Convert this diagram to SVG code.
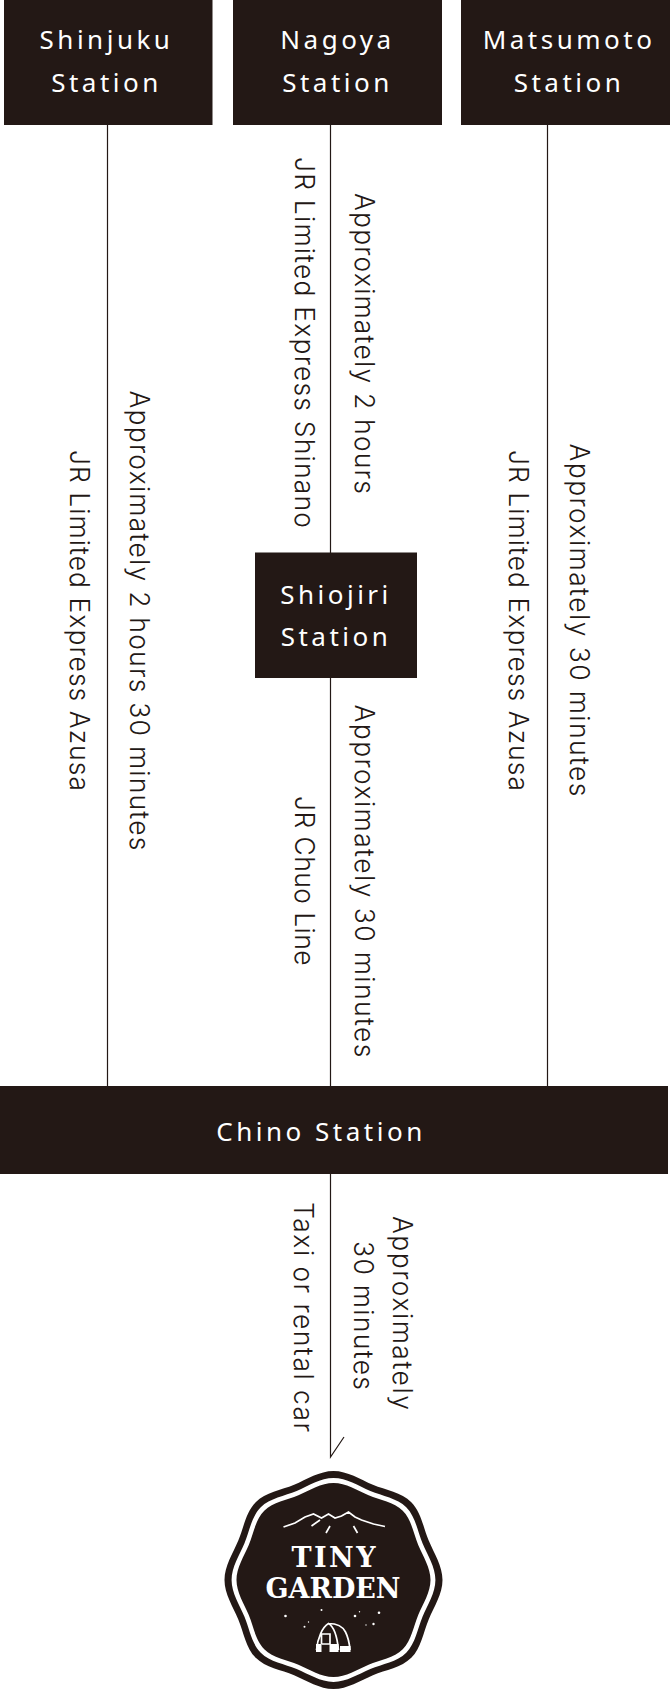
<svg xmlns="http://www.w3.org/2000/svg" width="670" height="1692" viewBox="0 0 670 1692">
<defs>
<path id="badge" d="M0,-109 C-14,-109 -26.5,-100.6 -39.4,-95.2 C-52.3,-89.8 -67.9,-87.7 -77.8,-77.8 C-87.7,-67.9 -89.8,-52.3 -95.2,-39.4 C-100.6,-26.5 -109,-14 -109,0 C-109,14 -100.6,26.5 -95.2,39.4 C-89.8,52.3 -87.7,67.9 -77.8,77.8 C-67.9,87.7 -52.3,89.8 -39.4,95.2 C-26.5,100.6 -14,109 0,109 C14,109 26.5,100.6 39.4,95.2 C52.3,89.8 67.9,87.7 77.8,77.8 C87.7,67.9 89.8,52.3 95.2,39.4 C100.6,26.5 109,14 109,0 C109,-14 100.6,-26.5 95.2,-39.4 C89.8,-52.3 87.7,-67.9 77.8,-77.8 C67.9,-87.7 52.3,-89.8 39.4,-95.2 C26.5,-100.6 14,-109 0,-109 Z"/>
</defs>
<style>
.box{fill:#231815}
.wt{fill:#fff;font-family:"Noto Sans","DejaVu Sans",sans-serif;font-size:26px;letter-spacing:3.500px;text-anchor:middle}
.lb{fill:#231815;font-family:"Inter","Noto Sans",sans-serif;font-size:26.500px;font-weight:300}
.ln{stroke:#231815;stroke-width:1.200;fill:none}
.logo{fill:#fff;font-family:"DejaVu Serif",serif;font-weight:700;font-size:27px}
</style>
<rect width="670" height="1692" fill="#fff"/>
<g id="connectors" class="ln">
<path d="M107.500,125V1086"/>
<path d="M330.500,125V1086"/>
<path d="M547.500,125V1086"/>
<path d="M330.500,1174V1457L344,1437"/>
</g>
<g id="shinjuku"><rect class="box" x="4" y="0" width="208.500" height="125"/><text class="wt" x="106.500" y="49">Shinjuku</text><text class="wt" x="106.500" y="92">Station</text></g>
<g id="nagoya"><rect class="box" x="233" y="0" width="209" height="125"/><text class="wt" x="337.500" y="49">Nagoya</text><text class="wt" x="337.500" y="92">Station</text></g>
<g id="matsumoto"><rect class="box" x="461" y="0" width="209" height="125"/><text class="wt" x="569" y="49">Matsumoto</text><text class="wt" x="569" y="92">Station</text></g>
<g id="shiojiri"><rect class="box" x="255" y="552.500" width="162" height="125.500"/><text class="wt" x="336" y="604">Shiojiri</text><text class="wt" x="336" y="646">Station</text></g>
<g id="chino"><rect class="box" x="0" y="1086" width="668" height="88"/><text class="wt" x="321" y="1141">Chino Station</text></g>
<g id="labels">
<text class="lb" textLength="341" transform="translate(69.500,450) rotate(90)">JR Limited Express Azusa</text>
<text class="lb" textLength="460" transform="translate(129.500,390.500) rotate(90)">Approximately 2 hours 30 minutes</text>
<text class="lb" textLength="371" transform="translate(294.500,157) rotate(90)">JR Limited Express Shinano</text>
<text class="lb" textLength="301" transform="translate(354.500,193) rotate(90)">Approximately 2 hours</text>
<text class="lb" textLength="341" transform="translate(508.500,450) rotate(90)">JR Limited Express Azusa</text>
<text class="lb" textLength="353" transform="translate(569.500,443.500) rotate(90)">Approximately 30 minutes</text>
<text class="lb" textLength="169.500" transform="translate(294.500,796) rotate(90)">JR Chuo Line</text>
<text class="lb" textLength="353" transform="translate(354.500,704.500) rotate(90)">Approximately 30 minutes</text>
<text class="lb" textLength="230" transform="translate(293.500,1202) rotate(90)">Taxi or rental car</text>
<text class="lb" textLength="194" transform="translate(392.500,1216) rotate(90)">Approximately</text>
<text class="lb" textLength="149" transform="translate(353.500,1241) rotate(90)">30 minutes</text>
</g>
<g id="tiny-garden" transform="translate(333.500,1580)">
<use href="#badge" fill="#231815"/>
<use href="#badge" fill="#fff" transform="scale(.935)"/>
<use href="#badge" fill="#231815" transform="scale(.89)"/>
<text class="logo" x="-42" y="-13" textLength="84">TINY</text>
<text class="logo" x="-68" y="18" textLength="135">GARDEN</text>
<path d="M-50,-53 L-38.500,-57 -28.500,-63 -20,-66 -12,-62 -5,-66 1.500,-62 8,-64 15,-68 21.500,-63 28,-60 40,-56 51.500,-53.500 M-22,-54 L-13.500,-60 M-7.500,-47 L-3.500,-54 M24,-47 L20,-54" fill="none" stroke="#fff" stroke-width="1.700"/>
<g fill="#fff">
<circle cx="-48" cy="36" r="1.300"/><circle cx="-29" cy="46.700" r="1"/><circle cx="-25" cy="42" r=".7"/><circle cx="-12" cy="30" r="1"/><circle cx="21.500" cy="36" r="1.300"/><circle cx="26" cy="31.700" r=".7"/><circle cx="32.500" cy="45" r=".7"/><circle cx="40" cy="44" r="1.200"/><circle cx="45.500" cy="32.700" r="1.300"/>
<rect x="-17.500" y="64" width="5.500" height="8"/><rect x="-4" y="64" width="9" height="8"/><rect x="6.500" y="66" width="10.500" height="6"/>
</g>
<path d="M-17,70 C-16,58 -11,47 -5,43.500 C1,47 4,60 5,70 M-5,43.500 C3,43.500 9,46 12,52 C15,58 16,64 16.500,70 M-12,64 V54 H-3.500 V64 M-12,64 H-3.500" fill="none" stroke="#fff" stroke-width="1.700"/>
</g>
</svg>
